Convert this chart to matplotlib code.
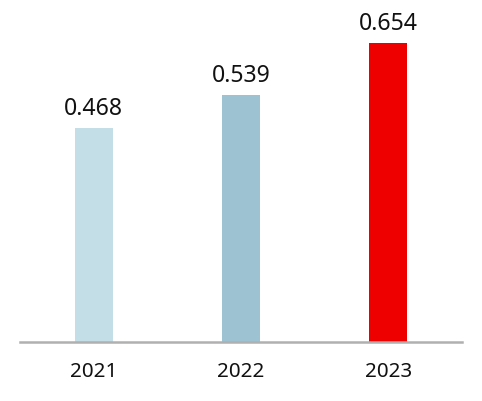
import matplotlib.pyplot as plt

years = ["2021", "2022", "2023"]
values = [0.468, 0.539, 0.654]
colors = ["#c4dee7", "#9dc3d3", "#ee0000"]

plt.rcParams['font.family'] = ['Noto Sans', 'DejaVu Sans']

fig = plt.figure(figsize=(4.82, 4.02), dpi=100)
ax = fig.add_axes([20 / 482, 59 / 402, 442 / 482, 343 / 402])

x = range(len(years))
bars = ax.bar(x, values, width=0.26, color=colors)

for b, v in zip(bars, values):
    ax.annotate(f"{v:.3f}", (b.get_x() + b.get_width() / 2, v),
                xytext=(0, 6), textcoords="offset points",
                ha="center", va="bottom", fontsize=16.6, color="#111111")

ax.set_xlim(-0.5, 2.5)
ax.set_ylim(0, 0.75)
ax.set_xticks(list(x))
ax.set_xticklabels(years, fontsize=14.8, color="#111111")
ax.tick_params(axis="x", length=0, pad=14)
ax.set_yticks([])
for s in ["top", "left", "right"]:
    ax.spines[s].set_visible(False)
ax.spines["bottom"].set_color("#b0b0b0")
ax.spines["bottom"].set_linewidth(1.8)

fig.savefig("out.png", dpi=100)
